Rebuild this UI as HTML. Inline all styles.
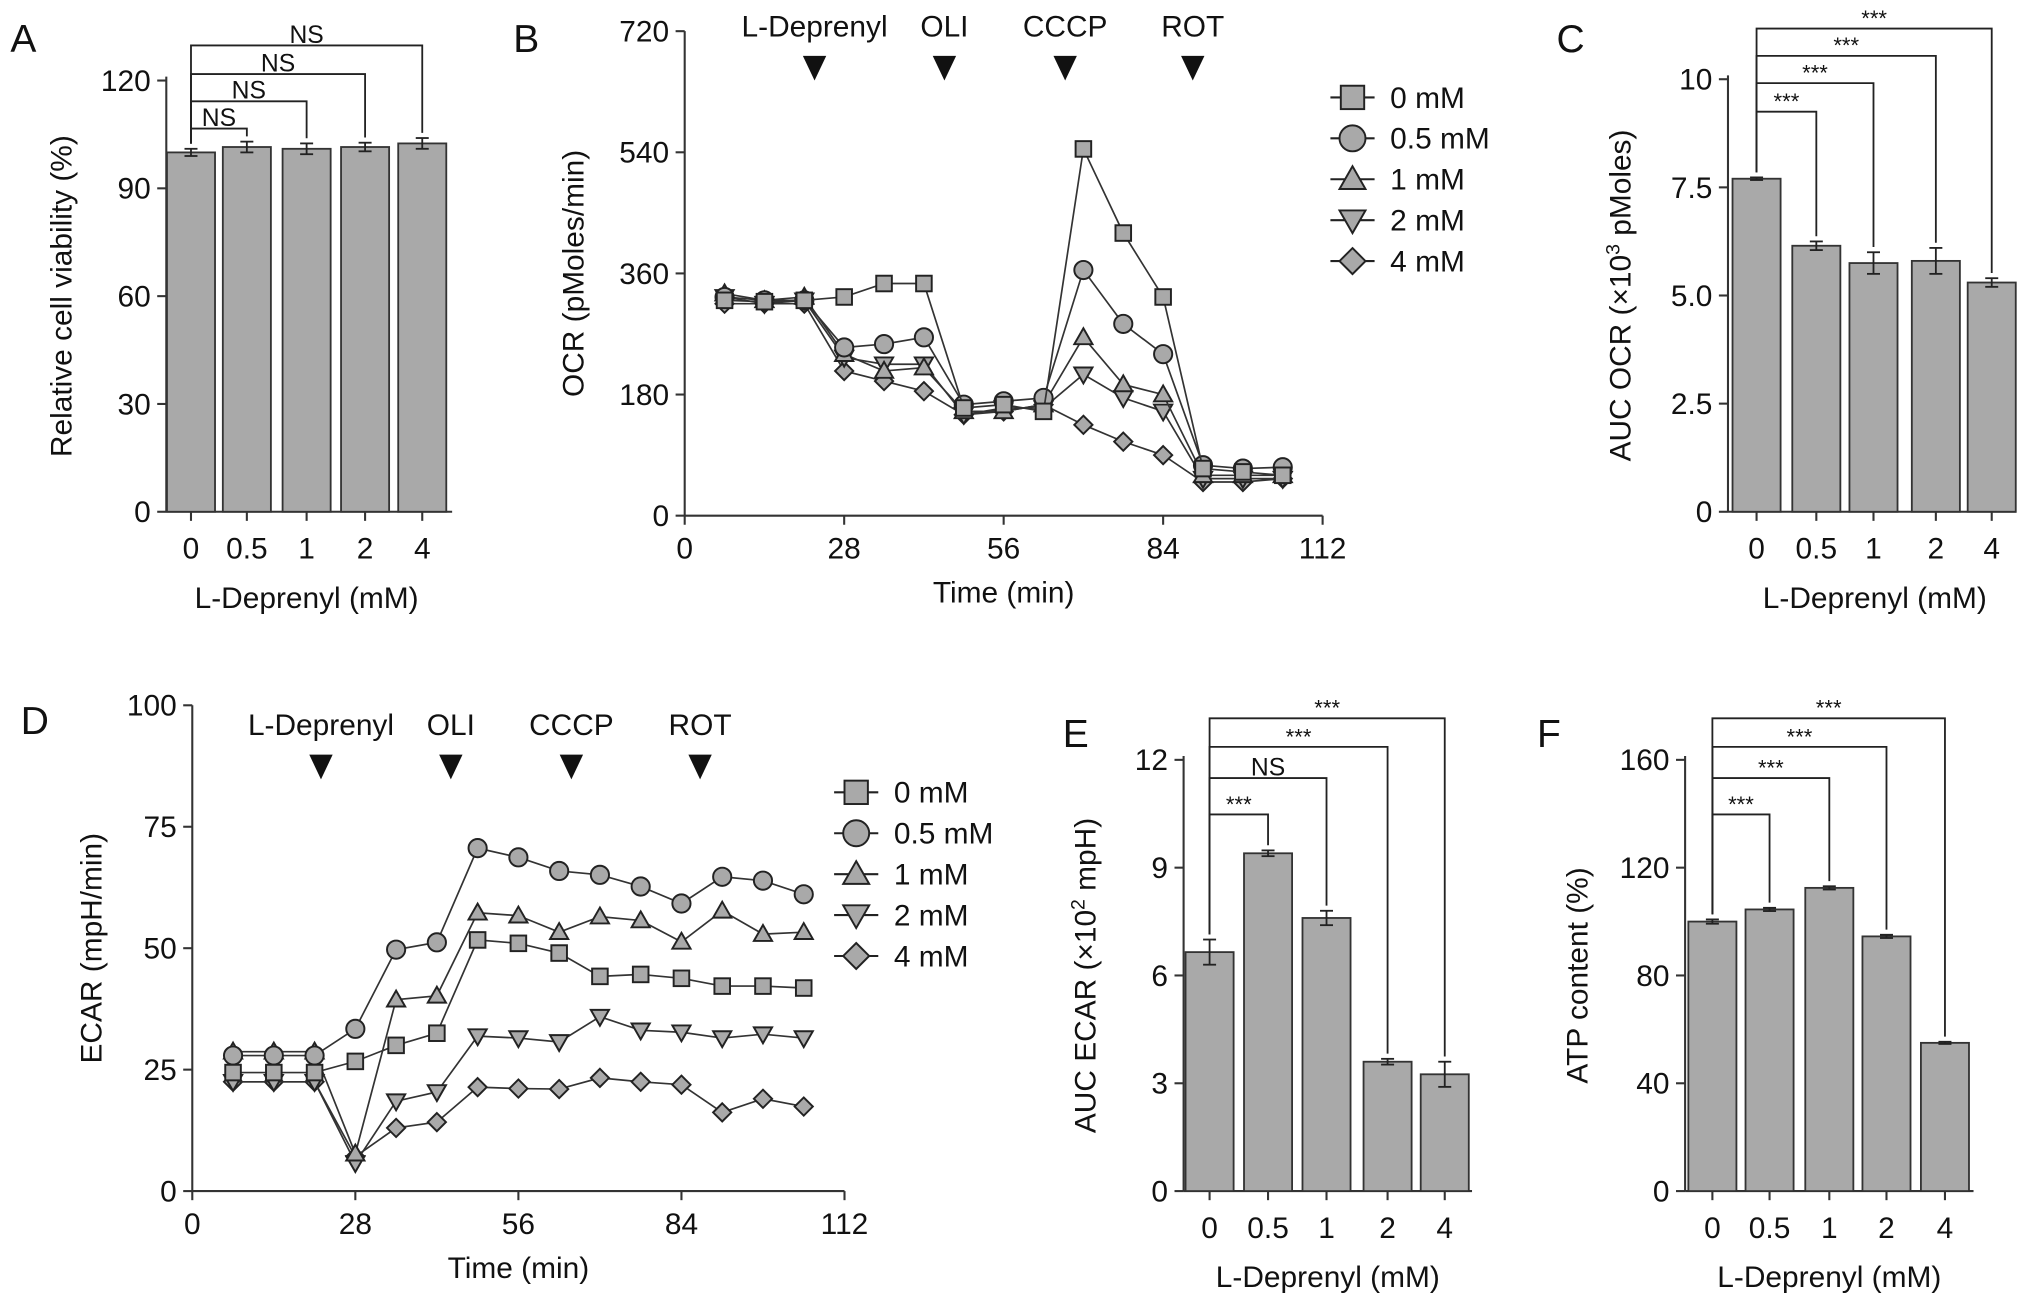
<!DOCTYPE html>
<html><head><meta charset="utf-8"><style>
html,body{margin:0;padding:0;background:#fff}
svg{display:block;font-family:"Liberation Sans",Arial,sans-serif}
</style></head><body>
<svg id="fig" width="2032" height="1295" viewBox="0 0 1564 997" preserveAspectRatio="none" xmlns="http://www.w3.org/2000/svg"></svg>
<script>
// ---------- data ----------
const doseLabels = ["0","0.5","1","2","4"];
const viabilityValues = [100,101.5,101,101.5,102.5];
const viabilityErr = [1,1.5,1.5,1.2,1.5];
const aucOcrValues = [7.7,6.15,5.75,5.8,5.3];
const aucOcrErr = [0.03,0.1,0.25,0.3,0.1];
const aucEcarValues = [6.65,9.4,7.6,3.6,3.25];
const aucEcarErr = [0.35,0.08,0.2,0.08,0.35];
const atpValues = [100,104.5,112.5,94.5,55];
const atpErr = [0.8,0.6,0.6,0.6,0.4];
const timePoints = [7,14,21,28,35,42,49,56,63,70,77,84,91,98,105];
const seriesNames = ["0 mM","0.5 mM","1 mM","2 mM","4 mM"];
const ocr0 = [320,318,320,325,345,345,160,165,155,545,420,325,70,65,60];
const ocr05 = [325,320,320,250,255,265,165,170,175,365,285,240,75,70,72];
const ocr1 = [330,320,325,240,215,220,155,155,165,265,195,180,60,60,60];
const ocr2 = [325,315,320,235,225,225,150,160,160,210,175,155,55,55,55];
const ocr4 = [315,315,315,215,200,185,150,155,165,135,110,90,50,50,55];
const ecar0 = [24.4,24.4,24.4,26.7,30,32.5,51.7,51,49,44.2,44.6,43.8,42.2,42.2,41.8];
const ecar05 = [27.9,27.9,27.9,33.4,49.7,51.2,70.6,68.7,65.9,65.1,62.7,59.2,64.7,63.9,61.1];
const ecar1 = [28.7,28.7,28.7,7.7,39.4,40.2,57.3,56.7,53.3,56.5,55.7,51.3,57.7,52.9,53.3];
const ecar2 = [22.5,22.5,22.5,5.8,18.5,20.4,31.9,31.5,30.7,35.9,33.1,32.7,31.5,32.3,31.5];
const ecar4 = [22.5,22.5,22.5,7.1,13,14.2,21.4,21.1,21,23.3,22.5,21.9,16.2,19,17.4];
const injNames = ["L-Deprenyl","OLI","CCCP","ROT"];
const injTimesB = [22.8,45.6,66.8,89.2];
const injTimesD = [22.1,44.4,65.1,87.2];
const ocrTicks = [0,180,360,540,720];
const ecarTicks = [0,25,50,75,100];
const timeTicks = [0,28,56,84,112];

const NS="http://www.w3.org/2000/svg";
const svg=document.getElementById('fig');
const FS=23;
function el(tag,attrs,parent,name,inter){const e=document.createElementNS(NS,tag);for(const k in attrs)e.setAttribute(k,attrs[k]);


(parent||svg).appendChild(e);return e;}
function txt(x,y,s,size,anchor,parent,name,extra){const t=el('text',Object.assign({x:x,y:y,'font-size':size,'text-anchor':anchor||'middle',fill:'#111'},extra||{}),parent,name);t.textContent=s;return t;}
const STROKE='#333', FILL='#a9a9a9';

function panelLetter(x,y,l){txt(x,y,l,30,'start',svg,'panel-label-'+l.toLowerCase());}

// ---------- bar panel ----------
function barPanel(o){
  const g=el('g',{},svg,o.name);
  const y=v=>o.y0-(v/o.ymax)*(o.y0-o.y1);
  el('line',{x1:o.ax,y1:o.y1-3,x2:o.ax,y2:o.y0,stroke:STROKE,'stroke-width':1.6},g,'y-axis');
  el('line',{x1:o.ax,y1:o.y0,x2:o.axEnd,y2:o.y0,stroke:STROKE,'stroke-width':1.6},g,'x-axis');
  o.ticks.forEach((t,i)=>{const yy=y(t);el('line',{x1:o.ax-7,y1:yy,x2:o.ax,y2:yy,stroke:STROKE,'stroke-width':1.6},g,'y-tick');
    txt(o.ax-12,yy+8,o.tickLabels[i],FS,'end',g,'y-tick-label');});
  o.values.forEach((v,i)=>{const cx=o.cx[i],bw=37;
    el('rect',{x:cx-bw/2,y:y(v),width:bw,height:o.y0-y(v),fill:FILL,stroke:STROKE,'stroke-width':1.4},g,'bar-'+doseLabels[i]);
    const e=o.err[i];
    el('line',{x1:cx,y1:y(v+e),x2:cx,y2:y(v-e),stroke:'#222','stroke-width':1.4},g,'error-bar');
    el('line',{x1:cx-5,y1:y(v+e),x2:cx+5,y2:y(v+e),stroke:'#222','stroke-width':1.4},g,'error-cap');
    el('line',{x1:cx-5,y1:y(v-e),x2:cx+5,y2:y(v-e),stroke:'#222','stroke-width':1.4},g,'error-cap');
    el('line',{x1:cx,y1:o.y0,x2:cx,y2:o.y0+7,stroke:STROKE,'stroke-width':1.6},g,'x-tick');
    txt(cx,o.y0+36,doseLabels[i],FS,'middle',g,'x-tick-label');
  });
  o.brackets.forEach(b=>{const i=b.to, lv=b.level;
    const top0=y(o.values[0]+o.err[0])-4, topi=y(o.values[i]+o.err[i])-4;
    el('polyline',{points:`${o.cx[0]},${top0} ${o.cx[0]},${lv} ${o.cx[i]},${lv} ${o.cx[i]},${topi}`,fill:'none',stroke:'#222','stroke-width':1.4},g,'significance-bracket');
    txt((o.cx[0]+o.cx[i])/2,lv-2,b.label,b.label==='NS'?19:17,'middle',g,'significance-label');
  });
  txt(o.xlabX,o.y0+74,'L-Deprenyl (mM)',FS,'middle',g,'x-axis-title');
  const yt=txt(0,0,o.ylabel,FS,'middle',g,'y-axis-title');yt.setAttribute('transform',`translate(${o.ylabX},${(o.y0+o.y1)/2}) rotate(-90)`);
  return yt;
}

barPanel({name:'panel-a-viability',ax:128,axEnd:348,y0:394,y1:62,ymax:120,ticks:[0,30,60,90,120],tickLabels:['0','30','60','90','120'],
 values:viabilityValues,err:viabilityErr,cx:[147,190,236,281,325],
 brackets:[{to:4,level:35,label:'NS'},{to:3,level:57,label:'NS'},{to:2,level:78,label:'NS'},{to:1,level:99,label:'NS'}],
 xlabX:236,ylabX:55,ylabel:'Relative cell viability (%)'});
const ycT=barPanel({name:'panel-c-auc-ocr',ax:1330,axEnd:1552,y0:394,y1:61,ymax:10,ticks:[0,2.5,5,7.5,10],tickLabels:['0','2.5','5.0','7.5','10'],
 values:aucOcrValues,err:aucOcrErr,cx:[1352,1398,1442,1490,1533],
 brackets:[{to:4,level:22,label:'***'},{to:3,level:43,label:'***'},{to:2,level:64,label:'***'},{to:1,level:86,label:'***'}],
 xlabX:1443,ylabX:1255,ylabel:''});
ycT.innerHTML='AUC OCR (×10<tspan baseline-shift="super" font-size="15">3</tspan> pMoles)';
const yeT=barPanel({name:'panel-e-auc-ecar',ax:911,axEnd:1133,y0:917,y1:585,ymax:12,ticks:[0,3,6,9,12],tickLabels:['0','3','6','9','12'],
 values:aucEcarValues,err:aucEcarErr,cx:[931,976,1021,1068,1112],
 brackets:[{to:4,level:553,label:'***'},{to:3,level:575,label:'***'},{to:2,level:599,label:'NS'},{to:1,level:627,label:'***'}],
 xlabX:1022,ylabX:843,ylabel:''});
yeT.innerHTML='AUC ECAR (×10<tspan baseline-shift="super" font-size="15">2</tspan> mpH)';
barPanel({name:'panel-f-atp',ax:1297,axEnd:1519,y0:917,y1:585,ymax:160,ticks:[0,40,80,120,160],tickLabels:['0','40','80','120','160'],
 values:atpValues,err:atpErr,cx:[1318,1362,1408,1452,1497],
 brackets:[{to:4,level:553,label:'***'},{to:3,level:575,label:'***'},{to:2,level:599,label:'***'},{to:1,level:627,label:'***'}],
 xlabX:1408,ylabX:1222,ylabel:'ATP content (%)'});

// ---------- markers ----------
function marker(type,x,y,g,s){s=s||8;const a={fill:FILL,stroke:'#222','stroke-width':1.5};
  if(type===0)return el('rect',Object.assign({x:x-s+1,y:y-s+1,width:2*s-2,height:2*s-2},a),g,'marker-square');
  if(type===1)return el('circle',Object.assign({cx:x,cy:y,r:s},a),g,'marker-circle');
  if(type===2)return el('polygon',Object.assign({points:`${x},${y-s} ${x+s},${y+s*0.75} ${x-s},${y+s*0.75}`},a),g,'marker-triangle');
  if(type===3)return el('polygon',Object.assign({points:`${x},${y+s} ${x+s},${y-s*0.75} ${x-s},${y-s*0.75}`},a),g,'marker-inverted-triangle');
  return el('polygon',Object.assign({points:`${x},${y-s} ${x+s},${y} ${x},${y+s} ${x-s},${y}`},a),g,'marker-diamond');}

// ---------- line panel ----------
function linePanel(o){
  const g=el('g',{},svg,o.name);
  const X=v=>o.x0+(v/112)*(o.x1-o.x0), Y=v=>o.y0-(v/o.ymax)*(o.y0-o.y1);
  el('line',{x1:o.x0,y1:o.y1,x2:o.x0,y2:o.y0,stroke:STROKE,'stroke-width':1.6},g,'y-axis');
  el('line',{x1:o.x0,y1:o.y0,x2:o.x1,y2:o.y0,stroke:STROKE,'stroke-width':1.6},g,'x-axis');
  o.yticks.forEach(t=>{el('line',{x1:o.x0-7,y1:Y(t),x2:o.x0,y2:Y(t),stroke:STROKE,'stroke-width':1.6},g,'y-tick');txt(o.x0-12,Y(t)+8,String(t),FS,'end',g,'y-tick-label');});
  timeTicks.forEach(t=>{el('line',{x1:X(t),y1:o.y0,x2:X(t),y2:o.y0+7,stroke:STROKE,'stroke-width':1.6},g,'x-tick');txt(X(t),o.y0+33,String(t),FS,'middle',g,'x-tick-label');});
  txt((o.x0+o.x1)/2,o.y0+67,'Time (min)',FS,'middle',g,'x-axis-title');
  const yt=txt(0,0,o.ylabel,FS,'middle',g,'y-axis-title');yt.setAttribute('transform',`translate(${o.ylabX},${(o.y0+o.y1)/2}) rotate(-90)`);
  injNames.forEach((n,i)=>{const x=X(o.inj[i]);txt(x,o.injLabelY,n,FS,'middle',g,'injection-label');
    el('polygon',{points:`${x-9},${o.injLabelY+15} ${x+9},${o.injLabelY+15} ${x},${o.injLabelY+34}`,fill:'#111'},g,'injection-arrow');});
  for(let s=o.series.length-1;s>=0;s--){const d=o.series[s];
    el('polyline',{points:d.map((v,i)=>`${X(timePoints[i])},${Y(v)}`).join(' '),fill:'none',stroke:'#333','stroke-width':1.3},g,'series-line-'+s);
    d.forEach((v,i)=>marker(s,X(timePoints[i]),Y(v),g,7));}
  seriesNames.forEach((n,i)=>{const ly=o.legY+i*31.5;
    el('line',{x1:o.legX,y1:ly,x2:o.legX+34,y2:ly,stroke:'#222','stroke-width':1.6},g,'legend-line');
    marker(i,o.legX+17,ly,g,10);
    txt(o.legX+46,ly+8,n,FS,'start',g,'legend-entry');});
}
linePanel({name:'panel-b-ocr',x0:527,x1:1018,y0:397,y1:24,ymax:720,yticks:ocrTicks,ylabel:'OCR (pMoles/min)',ylabX:449,
  inj:injTimesB,injLabelY:28,series:[ocr0,ocr05,ocr1,ocr2,ocr4],legX:1024,legY:75});
linePanel({name:'panel-d-ecar',x0:148,x1:650,y0:917,y1:543,ymax:100,yticks:ecarTicks,ylabel:'ECAR (mpH/min)',ylabX:78,
  inj:injTimesD,injLabelY:566,series:[ecar0,ecar05,ecar1,ecar2,ecar4],legX:642,legY:610});

panelLetter(8,40,'A');panelLetter(395,40,'B');panelLetter(1198,40,'C');
panelLetter(16,565,'D');panelLetter(818,575,'E');panelLetter(1183,575,'F');
</script>
</body></html>
